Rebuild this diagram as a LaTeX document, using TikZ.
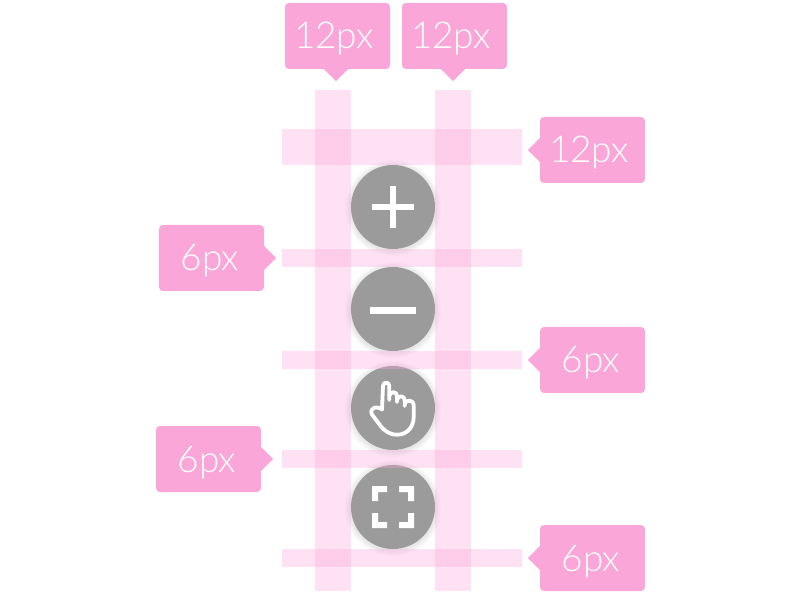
\documentclass[tikz,border=0pt]{standalone}
\usepackage{fontspec}
\setmainfont{Lato Light}
\definecolor{tagpink}{HTML}{FBA6D9}
\definecolor{btngray}{HTML}{9B9B9B}
\tikzset{
	tag/.style={fill=tagpink, text=white, rounded corners=4pt, minimum width=105pt, minimum height=66pt, inner sep=0pt, text height=26pt, text depth=0pt, font=\fontsize{37}{37}\selectfont},
	tagtip/.style={fill=tagpink},
	bar/.style={fill=tagpink, opacity=0.34},
	btn/.style={fill=btngray},
	glyph/.style={fill=white},
	hand/.style={draw=white, line width=3.8pt, line cap=round, line join=round}
}
\begin{document}
\begin{tikzpicture}[x=1pt, y=-1pt]
	%%%%% START %%%%%
	\useasboundingbox (0, 0) rectangle (795, 609);

	% buttons with soft shadow
	\foreach \cy in {207, 309, 408, 507} {
		\foreach \r in {48, 47, 46, 45, 44, 43} {
			\fill[black, opacity=0.016] (393, \cy+1) circle (\r);
		}
		\fill[btn] (393, \cy) circle (42);
	}

	% plus
	\fill[glyph] (372, 204) rectangle (414, 210);
	\fill[glyph] (390, 186) rectangle (396, 228);

	% minus
	\fill[glyph] (370, 307) rectangle (416, 314);

	% hand
	\draw[hand] (382, 409.7) -- (383, 386) .. controls (383.3, 381.5) and (389.3, 381.5) .. (389.3, 386) -- (389.3, 400);
	\draw[hand] (389.3, 396) .. controls (390, 391) and (397, 391) .. (397, 396) -- (397, 402);
	\draw[hand] (397, 400) .. controls (398, 395) and (404.7, 395) .. (404.7, 400.5) -- (404.7, 406);
	\draw[hand] (404.7, 403.5) .. controls (406, 399.5) and (413.7, 399.5) .. (413.7, 405) -- (413.7, 417)
		.. controls (413.7, 426) and (408, 434.7) .. (397, 434.7)
		.. controls (389, 434.7) and (384, 430) .. (381, 426.5)
		-- (372, 414.5) .. controls (369.5, 411) and (373, 407.5) .. (376, 407.5)
		.. controls (379, 407.5) and (381, 408) .. (382, 409.7);

	% fullscreen corners
	\fill[glyph] (372, 486) -- (387, 486) -- (387, 492) -- (378, 492) -- (378, 501) -- (372, 501) -- cycle;
	\fill[glyph] (414, 486) -- (399, 486) -- (399, 492) -- (408, 492) -- (408, 501) -- (414, 501) -- cycle;
	\fill[glyph] (372, 528) -- (387, 528) -- (387, 522) -- (378, 522) -- (378, 513) -- (372, 513) -- cycle;
	\fill[glyph] (414, 528) -- (399, 528) -- (399, 522) -- (408, 522) -- (408, 513) -- (414, 513) -- cycle;

	% spacing bars
	\fill[bar] (315, 90) rectangle (351, 591);
	\fill[bar] (435, 90) rectangle (471, 591);
	\fill[bar] (282, 129) rectangle (522, 165);
	\fill[bar] (282, 249) rectangle (522, 267);
	\fill[bar] (282, 351) rectangle (522, 369);
	\fill[bar] (282, 450) rectangle (522, 468);
	\fill[bar] (282, 549) rectangle (522, 567);

	% labels
	\node[tag] (topa) at (337.5, 36) {12px\kern 7pt};
	\node[tag] (topb) at (454.5, 36) {12px\kern 7pt};
	\node[tag] (righta) at (592.5, 150) {12px\kern 7pt};
	\node[tag] (rightb) at (592.5, 360) {6px\kern 3pt};
	\node[tag] (rightc) at (592.5, 558) {6px\kern 3pt};
	\node[tag] (lefta) at (211.5, 258) {6px\kern 3pt};
	\node[tag] (leftb) at (208.5, 459) {6px\kern 3pt};

	% label tips
	\fill[tagtip] ([xshift=-13.5pt]topa.south) -- ++(12, 12) -- ++(12, -12) -- cycle;
	\fill[tagtip] ([xshift=-13.5pt]topb.south) -- ++(12, 12) -- ++(12, -12) -- cycle;
	\fill[tagtip] ([yshift=-12pt]righta.west) -- ++(-12, -12) -- ++(12, -12) -- cycle;
	\fill[tagtip] ([yshift=-12pt]rightb.west) -- ++(-12, -12) -- ++(12, -12) -- cycle;
	\fill[tagtip] ([yshift=-12pt]rightc.west) -- ++(-12, -12) -- ++(12, -12) -- cycle;
	\fill[tagtip] ([yshift=-12pt]lefta.east) -- ++(12, -12) -- ++(-12, -12) -- cycle;
	\fill[tagtip] ([yshift=-12pt]leftb.east) -- ++(12, -12) -- ++(-12, -12) -- cycle;
	%%%%% END %%%%%
\end{tikzpicture}
\end{document}
